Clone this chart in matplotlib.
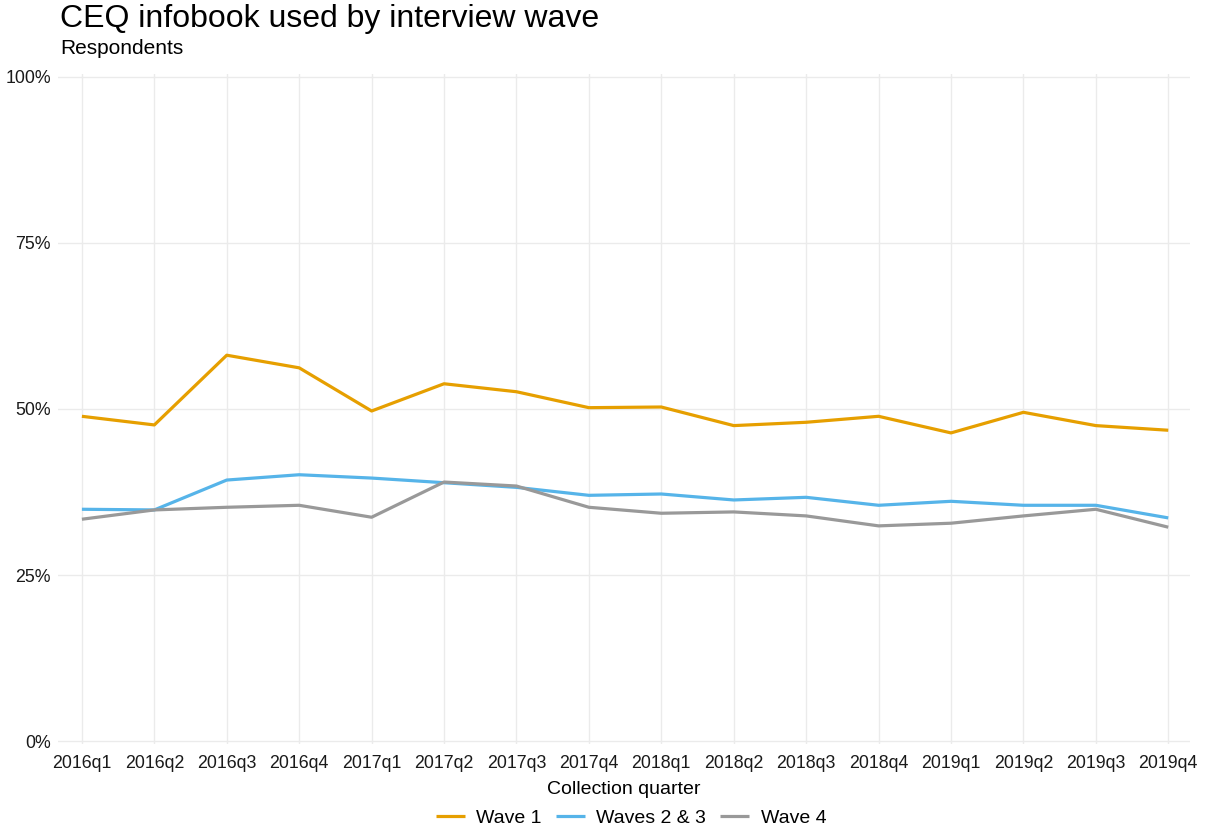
import matplotlib.pyplot as plt
from matplotlib.ticker import PercentFormatter

plt.rcParams['font.family'] = ['Liberation Sans', 'DejaVu Sans']

quarters = ['2016q1', '2016q2', '2016q3', '2016q4', '2017q1', '2017q2', '2017q3', '2017q4',
            '2018q1', '2018q2', '2018q3', '2018q4', '2019q1', '2019q2', '2019q3', '2019q4']

# share of respondents using the infobook
wave1 = [48.9, 47.6, 58.1, 56.2, 49.7, 53.8, 52.6, 50.2,
         50.3, 47.5, 48.0, 48.9, 46.4, 49.5, 47.5, 46.8]
waves23 = [34.9, 34.8, 39.3, 40.1, 39.6, 38.9, 38.2, 37.0,
           37.2, 36.3, 36.7, 35.5, 36.1, 35.5, 35.5, 33.6]
wave4 = [33.4, 34.8, 35.2, 35.5, 33.7, 39.0, 38.4, 35.2,
         34.3, 34.5, 33.9, 32.4, 32.8, 33.9, 34.9, 32.2]

series = [('Wave 1', wave1, '#E69F00'),
          ('Waves 2 & 3', waves23, '#56B4E9'),
          ('Wave 4', wave4, '#999999')]

fig = plt.figure(figsize=(12.08, 8.35), dpi=100)
ax = fig.add_axes([58 / 1208, 1 - 741 / 835 - 0.004, 1132 / 1208, 664 / 835 + 0.008])

x = list(range(len(quarters)))
for name, vals, col in series:
    ax.plot(x, [v / 100 for v in vals], color=col, lw=2.3, label=name, solid_capstyle='butt')

ax.set_xlim(-0.33, 15.3)
ax.set_ylim(-0.005, 1.005)
ax.set_yticks([0, 0.25, 0.5, 0.75, 1.0])
ax.yaxis.set_major_formatter(PercentFormatter(1.0, decimals=0))
ax.set_xticks(x)
ax.set_xticklabels(quarters)
ax.tick_params(length=0, labelsize=12.8, colors='#1a1a1a')
ax.tick_params(axis='x', pad=8)
ax.tick_params(axis='y', pad=5)
ax.grid(True, color='#ebebeb', lw=1)
ax.set_axisbelow(True)
for s in ax.spines.values():
    s.set_visible(False)

ax.set_xlabel('Collection quarter', fontsize=14, color='black', labelpad=6)

fig.text(60 / 1208, 1 - 19 / 835, 'CEQ infobook used by interview wave',
         fontsize=23, va='center', ha='left')
fig.text(60 / 1208, 1 - 48 / 835, 'Respondents', fontsize=15, va='center', ha='left')

fig.legend(loc='center', bbox_to_anchor=(631 / 1208, 1 - 818 / 835), ncol=3,
           frameon=False, fontsize=14, handlelength=1.5, columnspacing=0.7,
           handletextpad=0.6)

fig.savefig('out.png', dpi=100)
